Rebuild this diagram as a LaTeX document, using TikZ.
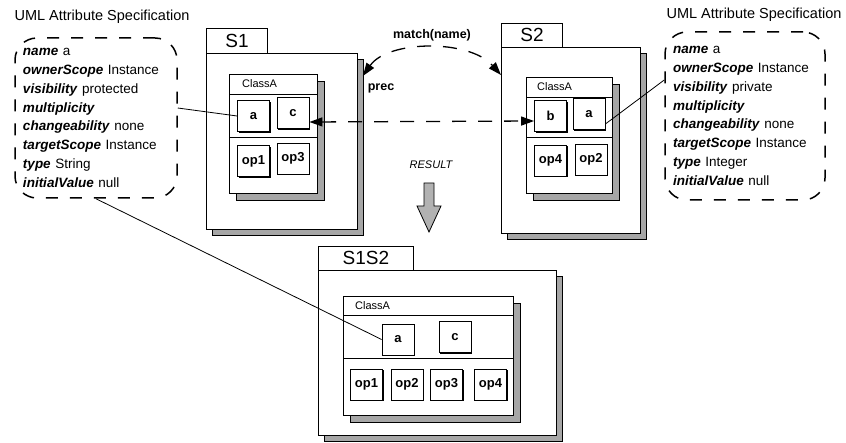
\documentclass[tikz,border=0pt]{standalone}
\usepackage{fontspec}
\setmainfont{Liberation Sans}
\usetikzlibrary{arrows.meta,shadows}

\tikzset{
  pkgtab/.style={draw, fill=white, anchor=north west, inner sep=0pt, line width=0.9pt,
    font=\fontsize{19}{19}\selectfont},
  pkgbody/.style={draw, fill=white, anchor=north west, inner sep=0pt, line width=0.9pt,
    drop shadow={shadow xshift=6pt, shadow yshift=-6pt, fill=gray!70, draw=black, opacity=1}},
  classbox/.style={draw, fill=white, anchor=north west, inner sep=0pt, line width=0.9pt,
    drop shadow={shadow xshift=7pt, shadow yshift=-7pt, fill=gray!70, draw=black, opacity=1}},
  classname/.style={anchor=west, inner sep=0pt, font=\fontsize{11}{11}\selectfont},
  feat/.style={draw, fill=white, minimum width=32pt, minimum height=31pt, inner sep=0pt,
    line width=0.8pt, font=\bfseries\fontsize{13}{13}\selectfont,
    drop shadow={shadow xshift=1.3pt, shadow yshift=-1.3pt, fill=black, opacity=1}},
  note/.style={draw, dashed, dash pattern=on 12pt off 12pt, line width=1.5pt,
    rounded corners=22pt, align=left, inner ysep=0pt,
    font=\fontsize{13.5}{18.86}\selectfont},
  notetitle/.style={font=\fontsize{14.5}{14.5}\selectfont},
  conn/.style={line width=0.8pt},
  matchconn/.style={line width=1.3pt, dash pattern=on 14pt off 12pt,
    {Triangle[length=13pt,width=9pt]}-{Triangle[length=13pt,width=9pt]}},
  lbl/.style={font=\bfseries\fontsize{12.5}{12.5}\selectfont}
}

\begin{document}
\begin{tikzpicture}[x=1pt, y=-1pt]
\useasboundingbox (0,0) rectangle (846,443);

% attribute notes
\node[notetitle] (titleL) at (102,17) {UML Attribute Specification};
\node[note, text width=146pt, inner xsep=8pt, minimum height=160pt] (noteL) at (96,118)
  {\textbf{\textit{name}} a\\
   \textbf{\textit{ownerScope}} Instance\\
   \textbf{\textit{visibility}} protected\\
   \textbf{\textit{multiplicity}}\\
   \textbf{\textit{changeability}} none\\
   \textbf{\textit{targetScope}} Instance\\
   \textbf{\textit{type}} String\\
   \textbf{\textit{initialValue}} null};

\node[notetitle] (titleR) at (754,15) {UML Attribute Specification};
\node[note, text width=144pt, inner xsep=8pt, minimum height=168pt] (noteR) at (745,116)
  {\textbf{\textit{name}} a\\
   \textbf{\textit{ownerScope}} Instance\\
   \textbf{\textit{visibility}} private\\
   \textbf{\textit{multiplicity}}\\
   \textbf{\textit{changeability}} none\\
   \textbf{\textit{targetScope}} Instance\\
   \textbf{\textit{type}} Integer\\
   \textbf{\textit{initialValue}} null};

% package S1
\node[pkgtab, minimum width=61pt, minimum height=25pt] (tabOne) at (206,28) {S1};
\node[pkgbody, minimum width=151pt, minimum height=176pt] (bodyOne) at (206,53) {};
\node[classbox, minimum width=88pt, minimum height=119pt] (clsOne) at (229,74) {};
\draw[line width=0.9pt] (clsOne.west |- 0,94) -- (clsOne.east |- 0,94);
\draw[line width=0.9pt] (clsOne.west |- 0,137) -- (clsOne.east |- 0,137);
\node[classname] (nameOne) at (242,84) {ClassA};
\node[feat] (aOne) at (253.5,116) {a};
\node[feat] (cOne) at (293,113) {c};
\node[feat] (opOneA) at (253.5,161) {op1};
\node[feat] (opThreeA) at (293,158.5) {op3};

% package S2
\node[pkgtab, minimum width=61pt, minimum height=24pt] (tabTwo) at (501,23) {S2};
\node[pkgbody, minimum width=139pt, minimum height=186pt] (bodyTwo) at (501,47) {};
\node[classbox, minimum width=86pt, minimum height=116pt] (clsTwo) at (526,77) {};
\draw[line width=0.9pt] (clsTwo.west |- 0,97) -- (clsTwo.east |- 0,97);
\draw[line width=0.9pt] (clsTwo.west |- 0,137) -- (clsTwo.east |- 0,137);
\node[classname] (nameTwo) at (537,87) {ClassA};
\node[feat] (bTwo) at (550.5,116) {b};
\node[feat] (aTwo) at (589,114) {a};
\node[feat] (opFourB) at (550.5,160.5) {op4};
\node[feat] (opTwoB) at (591,159.5) {op2};

% package S1S2
\node[pkgtab, minimum width=95pt, minimum height=24pt] (tabRes) at (318,246) {S1S2};
\node[pkgbody, minimum width=238pt, minimum height=165pt] (bodyRes) at (318,270) {};
\node[classbox, minimum width=170pt, minimum height=119pt] (clsRes) at (343,296) {};
\draw[line width=0.9pt] (clsRes.west |- 0,315) -- (clsRes.east |- 0,315);
\draw[line width=0.9pt] (clsRes.west |- 0,358) -- (clsRes.east |- 0,358);
\node[classname] (nameRes) at (355,305.5) {ClassA};
\node[feat] (aRes) at (398,339.5) {a};
\node[feat] (cRes) at (455,337) {c};
\node[feat] (opOneR) at (366.5,384.5) {op1};
\node[feat] (opTwoR) at (407,384.5) {op2};
\node[feat] (opThreeR) at (446.5,384.5) {op3};
\node[feat] (opFourR) at (490.5,384.5) {op4};

% match and prec
\node[lbl] (matchLbl) at (432,35) {match(name)};
\draw[matchconn] ([xshift=5pt, yshift=-23pt]bodyOne.north east)
  .. controls +(25,-36) and +(-32,-36) .. ([yshift=-28pt]bodyTwo.north west);
\node[lbl] (precLbl) at (381,88) {prec};
\draw[matchconn] ([yshift=-9pt]cOne.east) -- ([yshift=-5pt]bTwo.west);

% result arrow
\node[font=\itshape\fontsize{11}{11}\selectfont] (resLbl) at (431,165) {RESULT};
\coordinate (resTop) at (429,183);
\draw[fill=gray!60, line width=0.8pt] (resTop) ++(-5,0) -- ++(10,0) -- ++(0,23) -- ++(7,0)
  -- ++(-12,26) -- ++(-12,-26) -- ++(7,0) -- cycle;

% note links
\draw[conn] ([yshift=10pt]noteL.east) -- (aOne.west);
\draw[conn] (noteL.south) -- (aRes.west);
\draw[conn] ([yshift=-10pt]aTwo.east) -- ([yshift=36pt]noteR.west);
\end{tikzpicture}
\end{document}
